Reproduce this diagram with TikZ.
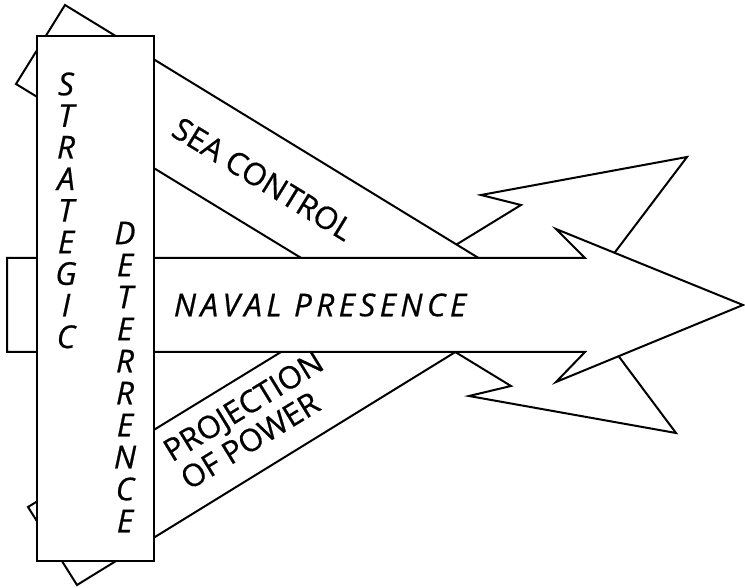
\documentclass[tikz,border=0pt]{standalone}
\usepackage{fontspec}
\setmainfont{Open Sans}[FakeBold=0.6]
\begin{document}
\begin{tikzpicture}[x=1pt, y=-1pt, line width=2pt, line join=miter,
  band/.style={draw=black, fill=white},
  lbl/.style={font=\fontsize{31}{33}\selectfont, inner sep=0pt},
  vletter/.style={font=\fontsize{31.5}{31.5}\selectfont\itshape, inner sep=0pt,
    text height=22.5pt, text depth=0pt}]
\useasboundingbox (0,0) rectangle (745,588);

% Projection of power: band rising to the right, head at the top
\draw[band] (77,585) -- (28,507) -- (521,205) -- (481,195) -- (687,157)
  -- (600,272) -- (470,343) -- cycle;

% Sea control: band falling to the right, head at the bottom
\draw[band] (16,84) -- (65,5) -- (490,265) -- (605,338) -- (676,433)
  -- (469,396) -- (511,386) -- cycle;

% Naval presence: straight arrow through the middle
\draw[band] (7,258) -- (585,258) -- (556,229) -- (743,305) -- (556,382)
  -- (585,352) -- (7,352) -- cycle;

% Strategic deterrence column
\draw[band] (37,36) rectangle (154,561);

% Labels
\node[lbl, rotate=-31.5] (sea) at (263,179) {SEA CONTROL};
\node[lbl, font=\fontsize{31.5}{31.5}\selectfont\itshape\addfontfeatures{LetterSpace=14}]
  (naval) at (320,305) {NAVAL PRESENCE};
\node[lbl, rotate=31.5, align=left, anchor=north west] (proj)
  at (159,443) {PROJECTION\\OF POWER};

\foreach \l [count=\i] in {S,T,R,A,T,E,G,I,C}
  \node[vletter] (strat\i) at (66,{84+31.6*(\i-1)}) {\l};
\foreach \l [count=\i] in {D,E,T,E,R,R,E,N,C,E}
  \node[vletter] (deter\i) at (125,{233+32*(\i-1)}) {\l};
\end{tikzpicture}
\end{document}
